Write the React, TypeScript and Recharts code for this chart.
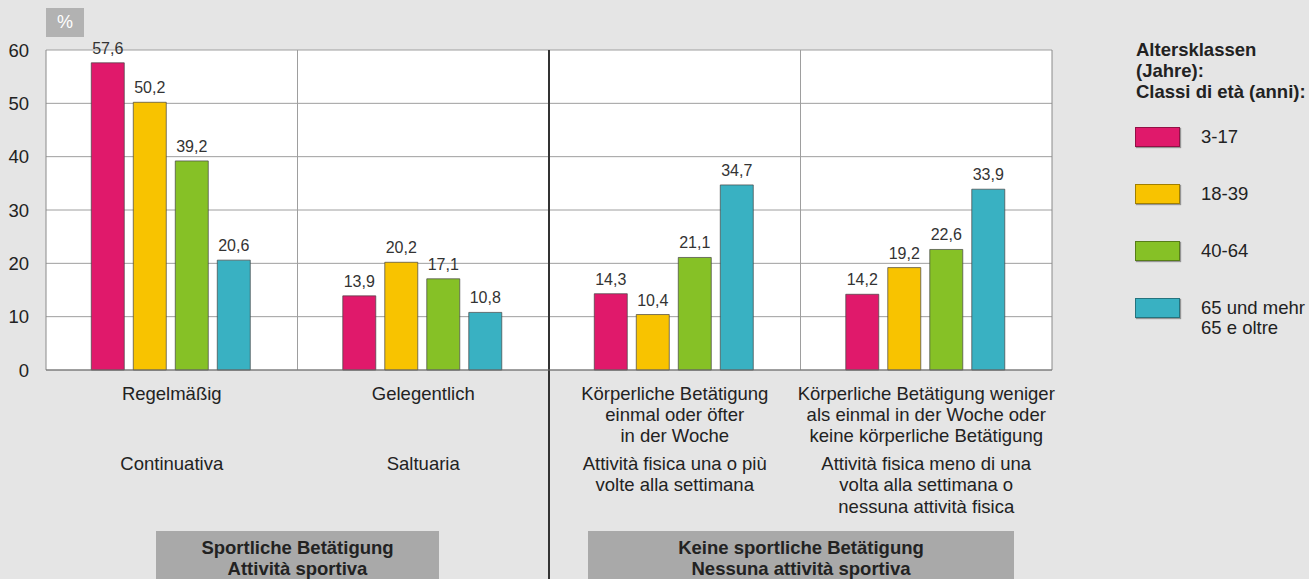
import React from 'react';
import {
  BarChart,
  Bar,
  XAxis,
  YAxis,
  CartesianGrid,
  ReferenceLine,
  LabelList,
} from 'recharts';

// ---------- data ----------
const categoryKeys = ['regelmaessig', 'gelegentlich', 'einmalWoche', 'wenigerWoche'];
const germanLabels: string[][] = [
  ['Regelmäßig'],
  ['Gelegentlich'],
  ['Körperliche Betätigung', 'einmal oder öfter', 'in der Woche'],
  ['Körperliche Betätigung weniger', 'als einmal in der Woche oder', 'keine körperliche Betätigung'],
];
const italianLabels: string[][] = [
  ['Continuativa'],
  ['Saltuaria'],
  ['Attività fisica una o più', 'volte alla settimana'],
  ['Attività fisica meno di una', 'volta alla settimana o', 'nessuna attività fisica'],
];
const age3to17 = [57.6, 13.9, 14.3, 14.2];
const age18to39 = [50.2, 20.2, 10.4, 19.2];
const age40to64 = [39.2, 17.1, 21.1, 22.6];
const age65plus = [20.6, 10.8, 34.7, 33.9];
const seriesKeys = ['a', 'b', 'c', 'd'];
const seriesNames: string[][] = [['3-17'], ['18-39'], ['40-64'], ['65 und mehr', '65 e oltre']];
const seriesColors = ['#e0196b', '#f8c300', '#86c126', '#39b1c2'];
const yTicks = [0, 10, 20, 30, 40, 50, 60];
const legendTitle = ['Altersklassen', '(Jahre):', 'Classi di età (anni):'];
const groupLabels: string[][] = [
  ['Sportliche Betätigung', 'Attività sportiva'],
  ['Keine sportliche Betätigung', 'Nessuna attività sportiva'],
];
const unitLabel = '%';

const data = categoryKeys.map((key, i) => ({
  key,
  pos: i + 0.5,
  a: age3to17[i],
  b: age18to39[i],
  c: age40to64[i],
  d: age65plus[i],
}));

const FONT = '"Liberation Sans", Arial, Helvetica, sans-serif';
const TEXT = '#222';

const fmt = (v: any) => String(v).replace('.', ',');

const CategoryTick = (props: any) => {
  const { x, y, payload } = props;
  const idx = payload?.index ?? categoryKeys.indexOf(payload?.value);
  const de = germanLabels[idx] || [];
  const it = italianLabels[idx] || [];
  return (
    <g>
      {de.map((line, i) => (
        <text key={'de' + i} x={x} y={y + 30 + i * 21} textAnchor="middle" fontSize={18.5} fill={TEXT} fontFamily={FONT}>
          {line}
        </text>
      ))}
      {it.map((line, i) => (
        <text key={'it' + i} x={x} y={y + 100 + i * 21.3} textAnchor="middle" fontSize={18.5} fill={TEXT} fontFamily={FONT}>
          {line}
        </text>
      ))}
    </g>
  );
};

export default function App() {
  return (
    <div
      style={{
        position: 'absolute',
        left: 0,
        top: 0,
        width: 1309,
        height: 579,
        background: '#e5e5e5',
        fontFamily: FONT,
        overflow: 'hidden',
      }}
    >
      <BarChart
        width={1309}
        height={579}
        data={data}
        margin={{ top: 50, right: 257, bottom: 0, left: 0 }}
        barCategoryGap="18%"
        barGap={9}
      >
        <CartesianGrid vertical={false} stroke="#9e9e9e" fill="#ffffff" />
        <XAxis
          dataKey="key"
          height={209}
          tickLine={false}
          tickSize={0}
          tickMargin={0}
          axisLine={{ stroke: '#6e6e6e' }}
          tick={<CategoryTick />}
          interval={0}
        />
        <XAxis xAxisId="sep" dataKey="pos" type="number" domain={[0, 4]} allowDataOverflow hide />
        <YAxis
          width={46}
          domain={[0, 60]}
          ticks={yTicks}
          axisLine={false}
          tickLine={false}
          tickSize={0}
          tickMargin={17}
          tick={{ fontSize: 18.5, fill: TEXT, fontFamily: FONT }}
          interval={0}
        />
        <ReferenceLine xAxisId="sep" x={0} stroke="#8a8a8a" strokeWidth={1} ifOverflow="visible" />
        <ReferenceLine xAxisId="sep" x={4} stroke="#8a8a8a" strokeWidth={1} ifOverflow="visible" />
        <ReferenceLine xAxisId="sep" x={1} stroke="#9e9e9e" strokeWidth={1} />
        <ReferenceLine xAxisId="sep" x={3} stroke="#9e9e9e" strokeWidth={1} />
        <ReferenceLine
          xAxisId="sep"
          segment={[
            { x: 2, y: 60 },
            { x: 2, y: -40 },
          ]}
          ifOverflow="visible"
          stroke="#333333"
          strokeWidth={2}
        />
        {seriesKeys.map((k, i) => (
          <Bar
            key={k}
            dataKey={k}
            name={seriesNames[i].join(' ')}
            fill={seriesColors[i]}
            stroke="#444"
            strokeOpacity={0.7}
            strokeWidth={1}
            isAnimationActive={false}
          >
            <LabelList
              dataKey={k}
              position="top"
              offset={9}
              formatter={fmt}
              style={{ fontSize: 16, fill: '#333', fontFamily: FONT }}
            />
          </Bar>
        ))}
      </BarChart>

      {/* unit box */}
      <div
        style={{
          position: 'absolute',
          left: 46,
          top: 8,
          width: 38,
          height: 29,
          background: '#b2b2b2',
          color: '#fff',
          fontSize: 18,
          lineHeight: '29px',
          textAlign: 'center',
        }}
      >
        {unitLabel}
      </div>

      {/* group boxes */}
      {groupLabels.map((lines, gi) => (
        <div
          key={gi}
          style={{
            position: 'absolute',
            left: gi === 0 ? 156 : 588,
            top: 531,
            width: gi === 0 ? 283 : 426,
            height: 48,
            background: '#a9a9a9',
            color: TEXT,
            fontWeight: 'bold',
            fontSize: 18.5,
            lineHeight: '20.5px',
            textAlign: 'center',
            paddingTop: 7,
            boxSizing: 'border-box',
          }}
        >
          {lines.map((l, i) => (
            <div key={i}>{l}</div>
          ))}
        </div>
      ))}

      {/* legend */}
      <div
        style={{
          position: 'absolute',
          left: 1136,
          top: 39,
          fontWeight: 'bold',
          fontSize: 18.5,
          lineHeight: '21px',
          color: TEXT,
          whiteSpace: 'nowrap',
        }}
      >
        {legendTitle.map((l, i) => (
          <div key={i}>{l}</div>
        ))}
      </div>
      {seriesNames.map((lines, i) => {
        const top = 127 + i * 57;
        return (
          <React.Fragment key={i}>
            <div
              style={{
                position: 'absolute',
                left: 1135,
                top,
                width: 45,
                height: 20,
                background: seriesColors[i],
                border: '1px solid rgba(0,0,0,0.35)',
                boxShadow: '1px 1px 1px rgba(0,0,0,0.35)',
                boxSizing: 'border-box',
              }}
            />
            <div
              style={{
                position: 'absolute',
                left: 1201,
                top: top + 10 - 10.5,
                fontSize: 18.5,
                lineHeight: '20px',
                color: TEXT,
                whiteSpace: 'nowrap',
              }}
            >
              {lines.map((l, j) => (
                <div key={j}>{l}</div>
              ))}
            </div>
          </React.Fragment>
        );
      })}
    </div>
  );
}
